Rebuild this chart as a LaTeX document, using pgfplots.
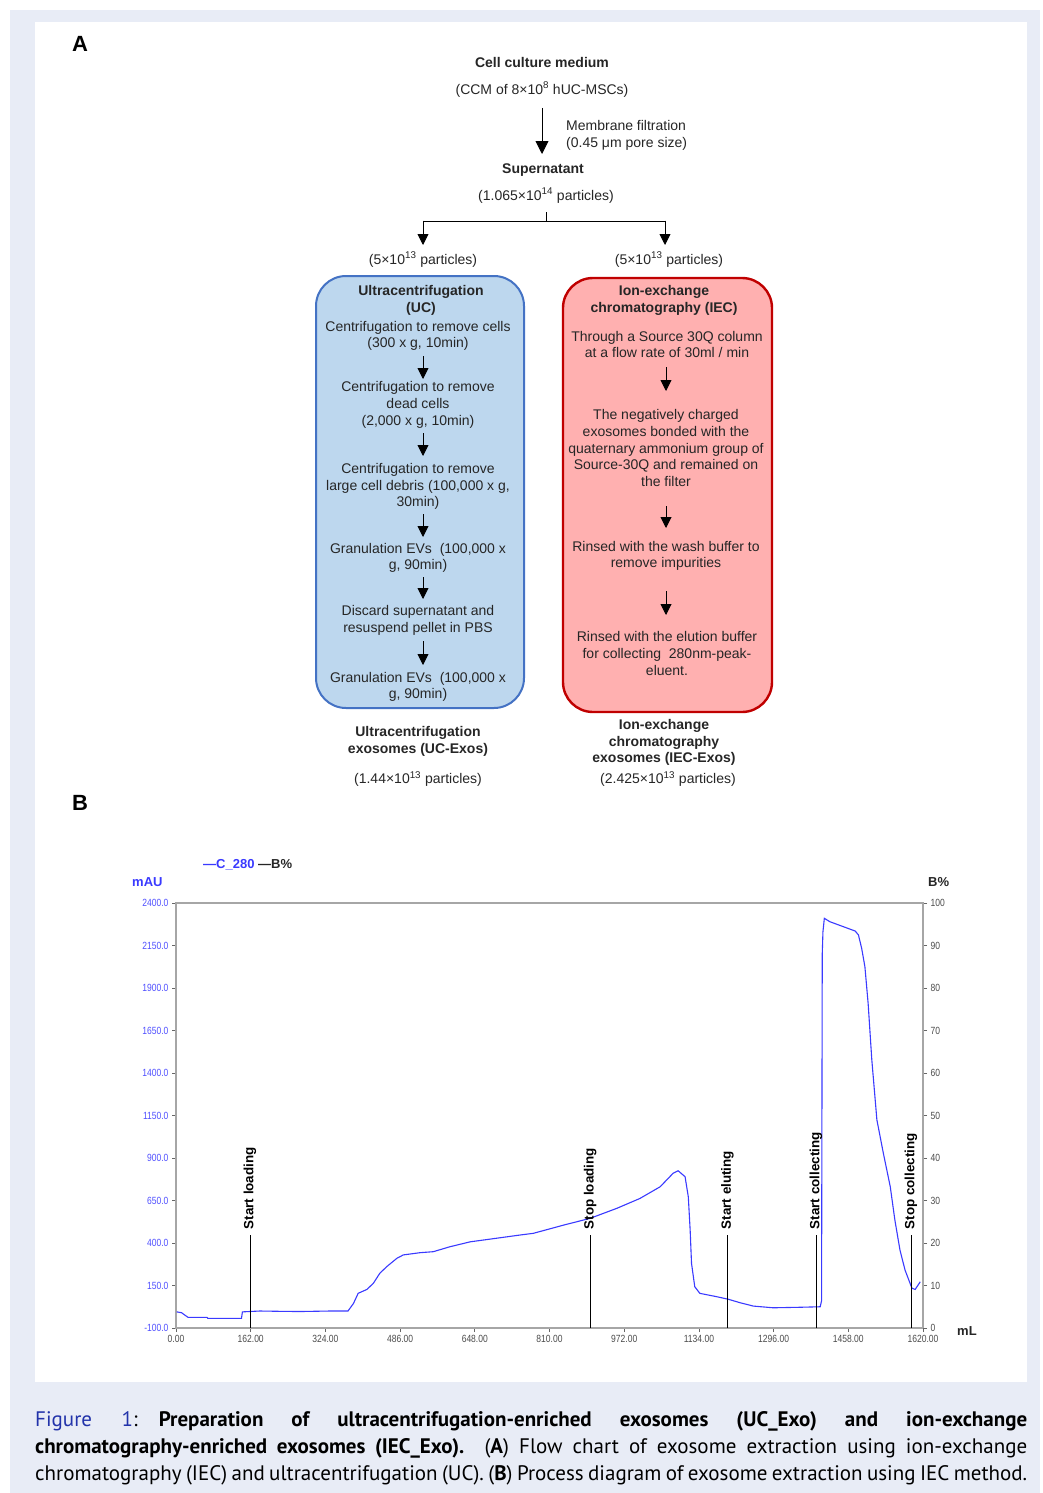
\documentclass[border=0pt]{standalone}
\usepackage{fontspec}
\setmainfont{Liberation Sans}
\newfontfamily\narrow[FakeStretch=0.82]{Liberation Sans}
\newfontfamily\capfont{PT Sans}
\usepackage{pgfplots}
\pgfplotsset{compat=1.18}
\usetikzlibrary{arrows.meta}
\definecolor{bg}{HTML}{E8ECF6}
\definecolor{ucfill}{HTML}{BDD7EE}
\definecolor{ucline}{HTML}{4472C4}
\definecolor{iecfill}{HTML}{FFB0B0}
\definecolor{iecline}{HTML}{C00000}
\definecolor{txt}{HTML}{262626}
\definecolor{curve}{HTML}{3A3AFF}
\definecolor{tickblue}{HTML}{5050FF}
\definecolor{capblue}{HTML}{2233AA}
\newcommand{\fs}{\fontsize{14}{16.7}\selectfont}
\newcommand{\tl}{\narrow\fontsize{10.4}{12}\selectfont}
\begin{document}
\begin{tikzpicture}
\begin{scope}[x=1pt,y=-1pt,
  t/.style={align=center,font=\fs,text=txt,inner sep=0pt},
  tb/.style={align=center,font=\fs\bfseries,text=txt,inner sep=0pt},
  arr/.style={-{Triangle[length=11pt,width=11pt]},line width=0.9pt,black},
  arrL/.style={-{Triangle[length=13pt,width=13pt]},line width=0.9pt,black}]
\fill[white] (0,0) rectangle (1043,1493);
\fill[bg] (10,10) rectangle (1040,1493);
\fill[white] (35,22) rectangle (1027,1382);
% panel letters
\node[font=\fontsize{22}{22}\selectfont\bfseries] at (80,44) {A};
\node[font=\fontsize{22}{22}\selectfont\bfseries] at (80,803) {B};
% top of flow chart
\node[tb] at (542,62) {Cell culture medium};
\node[t] at (542,89.5) {(CCM of 8×10\textsuperscript{8} hUC-MSCs)};
\draw[arrL] (542,108)--(542,154);
\node[t,align=left,anchor=west] at (566,135.5) {Membrane filtration\\(0.45 μm pore size)};
\node[tb] at (543,170.5) {Supernatant};
\node[t] at (546,195.5) {(1.065×10\textsuperscript{14} particles)};
\draw[line width=0.9pt] (546,212)--(546,221);
\draw[line width=0.9pt] (423,221)--(665,221);
\draw[arr] (423,220.5)--(423,245);
\draw[arr] (665,220.5)--(665,245);
\node[t] at (423,259.5) {(5×10\textsuperscript{13} particles)};
\node[t] at (669,259.5) {(5×10\textsuperscript{13} particles)};
% boxes
\draw[ucline,line width=2pt,fill=ucfill,rounded corners=30pt] (316,276) rectangle (524,708);
\draw[iecline,line width=2.4pt,fill=iecfill,rounded corners=30pt] (563,278) rectangle (772,712);
% UC column
\node[tb] at (421,300.5) {Ultracentrifugation\\(UC)};
\node[t] at (418,336) {Centrifugation to remove cells\\(300 x g, 10min)};
\draw[arr] (423,356)--(423,379);
\node[t] at (418,405) {Centrifugation to remove\\dead cells\\(2,000 x g, 10min)};
\draw[arr] (423,433)--(423,456);
\node[t] at (418,486.5) {Centrifugation to remove\\large cell debris (100,000 x g,\\30min)};
\draw[arr] (423,514)--(423,537);
\node[t] at (418,558) {Granulation EVs~~(100,000 x\\g, 90min)};
\draw[arr] (423,577)--(423,599);
\node[t] at (418,620.5) {Discard supernatant and\\resuspend pellet in PBS};
\draw[arr] (423,641)--(423,665);
\node[t] at (418,687) {Granulation EVs~~(100,000 x\\g, 90min)};
\node[tb] at (418,741.5) {Ultracentrifugation\\exosomes~(UC-Exos)};
\node[t] at (418,779) {(1.44×10\textsuperscript{13} particles)};
% IEC column
\node[tb] at (664,300.5) {Ion-exchange\\chromatography~(IEC)};
\node[t] at (667,344.5) {Through a Source 30Q column\\at a flow rate of 30ml / min};
\draw[arr] (666,367)--(666,391);
\node[t] at (666,448) {The negatively charged\\exosomes bonded with the\\quaternary ammonium group of\\Source-30Q and remained on\\the filter};
\draw[arr] (666,506)--(666,528);
\node[t] at (666,556) {Rinsed with the wash buffer to\\remove impurities};
\draw[arr] (666,591)--(666,615);
\node[t] at (667,653.5) {Rinsed with the elution buffer\\for collecting~~280nm-peak-\\eluent.};
\node[tb] at (664,742.5) {Ion-exchange\\chromatography\\exosomes~(IEC-Exos)};
\node[t] at (668,779) {(2.425×10\textsuperscript{13} particles)};
% chart annotations
\node[anchor=west,inner sep=0pt,font=\fontsize{13}{13}\selectfont\bfseries] at (203,865) {\textcolor{curve}{—C\_280} \textcolor{txt}{—B\%}};
\node[anchor=west,inner sep=0pt,font=\fontsize{13}{13}\selectfont\bfseries,text=curve] at (132,882) {mAU};
\node[anchor=west,inner sep=0pt,font=\fontsize{13}{13}\selectfont\bfseries,text=txt] at (928,882) {B\%};
\node[anchor=west,inner sep=0pt,font=\fontsize{13}{13}\selectfont\bfseries,text=txt] at (957,1331) {mL};
% caption
\node[anchor=base west,inner sep=0pt] at (35,1426) {\parbox[t]{992pt}{\capfont\fontsize{21}{27}\selectfont
\textcolor{capblue}{Figure~1}:\quad \textbf{Preparation of ultracentrifugation-enriched exosomes (UC\_Exo) and ion-exchange}\linebreak
\textbf{chromatography-enriched exosomes (IEC\_Exo).}~~(\textbf{A}) Flow chart of exosome extraction using ion-exchange\linebreak
chromatography (IEC) and ultracentrifugation (UC). (\textbf{B}) Process diagram of exosome extraction using IEC method.\parfillskip=0pt\par}};
\end{scope}
\begin{axis}[
  at={(176pt,-1328pt)}, anchor=south west,
  scale only axis, width=747pt, height=425pt,
  xmin=0, xmax=1620, ymin=-100, ymax=2400,
  xtick={0,162,...,1620}, ytick={-100,150,...,2400},
  xtick pos=bottom, ytick pos=left,
  tick align=outside, major tick length=4pt,
  axis line style={draw=black!35, line width=1.2pt},
  every tick/.style={black!60, line width=0.7pt},
  x tick label style={font=\tl, text=black!70, /pgf/number format/.cd, fixed, fixed zerofill, precision=2, 1000 sep={}, assume math mode=true},
  y tick label style={font=\tl, text=tickblue, /pgf/number format/.cd, fixed, fixed zerofill, precision=1, 1000 sep={}, assume math mode=true},
  clip=false]
\addplot[curve, line width=1.1pt] table {
x y
1.5 -5
12 -10
26 -37
67 -37
69 -43
142 -43
144 -5
182 0
230 -2
269 -3
334 0
373 0
385 45
395 104
414 127
428 163
442 222
457 261
479 310
493 330
529 343
558 349
594 378
638 407
703 431
746 447
775 457
840 505
898 545
956 604
1006 662
1050 731
1078 810
1089 825
1104 790
1111 672
1115 477
1118 280
1125 143
1136 104
1173 84
1198 69
1223 49
1252 29
1295 19
1353 22
1397 25
1400 60
1401.5 2100
1403 2230
1406 2310
1418 2290
1447 2261
1473 2235
1480 2212
1487 2133
1494 2025
1501 1809
1509 1476
1520 1124
1534 928
1549 731
1559 535
1570 359
1581 241
1596 134
1603 127
1614 172
};
\addplot[black, line width=1pt] coordinates {(160.5,-100) (160.5,447)};
\addplot[black, line width=1pt] coordinates {(898,-100) (898,447)};
\addplot[black, line width=1pt] coordinates {(1196,-100) (1196,447)};
\addplot[black, line width=1pt] coordinates {(1388,-100) (1388,447)};
\addplot[black, line width=1pt] coordinates {(1594,-100) (1594,447)};
\node[rotate=90,anchor=west,inner sep=0pt,font=\fontsize{13.4}{14}\selectfont\bfseries] at (axis cs:160.5,480) {Start loading};
\node[rotate=90,anchor=west,inner sep=0pt,font=\fontsize{13.4}{14}\selectfont\bfseries] at (axis cs:898,480) {Stop loading};
\node[rotate=90,anchor=west,inner sep=0pt,font=\fontsize{13.4}{14}\selectfont\bfseries] at (axis cs:1196,480) {Start eluting};
\node[rotate=90,anchor=west,inner sep=0pt,font=\fontsize{13.4}{14}\selectfont\bfseries] at (axis cs:1388,480) {Start collecting};
\node[rotate=90,anchor=west,inner sep=0pt,font=\fontsize{13.4}{14}\selectfont\bfseries] at (axis cs:1594,480) {Stop collecting};
\end{axis}
\begin{axis}[
  at={(176pt,-1328pt)}, anchor=south west,
  scale only axis, width=747pt, height=425pt,
  xmin=0, xmax=1620, ymin=0, ymax=100,
  axis x line=none, axis y line*=right,
  y axis line style={draw=black!35, line width=1.2pt, -},
  ytick={0,10,...,100},
  tick align=outside, major tick length=4pt,
  every tick/.style={black!60, line width=0.7pt},
  y tick label style={font=\tl, text=black!70, /pgf/number format/.cd, fixed, assume math mode=true}]
\end{axis}
\end{tikzpicture}
\end{document}
